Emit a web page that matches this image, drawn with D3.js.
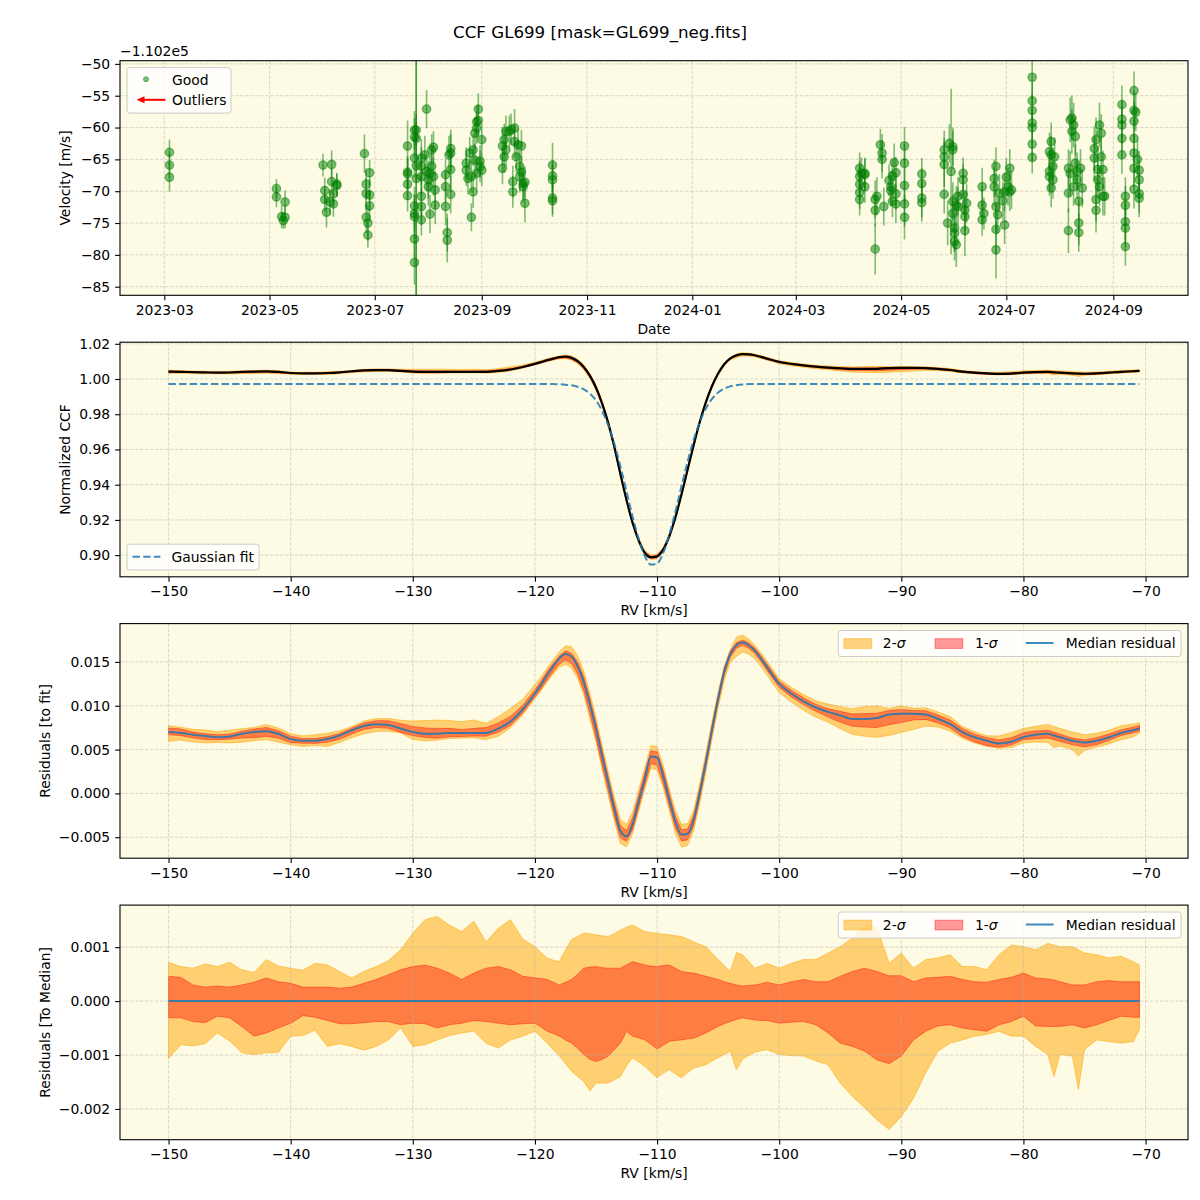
<!DOCTYPE html>
<html>
<head>
<meta charset="utf-8">
<script src="https://cdn.jsdelivr.net/npm/d3@7"></script>
<style>
  body { margin: 0; background: #ffffff; }
  svg text { font-family: "DejaVu Sans", sans-serif; fill: #000; }
</style>
</head>
<body>
<div class="chart"></div>
<script>
// ---------------- data ----------------

// velocities are shown relative to this offset (axis offset text)
var velOffsetLabel = "\u22121.102e5";

// one entry per night, velocities [m/s] and errors [m/s] for the exposures of that night
var nightDates = [
  "2023-03-04", "2023-05-05", "2023-05-08", "2023-05-09", "2023-05-10",
  "2023-06-01", "2023-06-02", "2023-06-03", "2023-06-05", "2023-06-06", "2023-06-07", "2023-06-09",
  "2023-06-25", "2023-06-26", "2023-06-27", "2023-06-28",
  "2023-07-20", "2023-07-24", "2023-07-25", "2023-07-28", "2023-07-30", "2023-07-31",
  "2023-08-01", "2023-08-02", "2023-08-03", "2023-08-04", "2023-08-05",
  "2023-08-11", "2023-08-12", "2023-08-13", "2023-08-14",
  "2023-08-23", "2023-08-24", "2023-08-25", "2023-08-26", "2023-08-27", "2023-08-28",
  "2023-08-29", "2023-08-30", "2023-08-31", "2023-09-01",
  "2023-09-13", "2023-09-14", "2023-09-15", "2023-09-17", "2023-09-18", "2023-09-19",
  "2023-09-20", "2023-09-21", "2023-09-22", "2023-09-23", "2023-09-24", "2023-09-25", "2023-09-26",
  "2023-10-12",
  "2024-04-07", "2024-04-08", "2024-04-10", "2024-04-16", "2024-04-17", "2024-04-19",
  "2024-04-20", "2024-04-21", "2024-04-24", "2024-04-25", "2024-04-26", "2024-04-27", "2024-04-28",
  "2024-05-03", "2024-05-13", "2024-05-26", "2024-05-28", "2024-05-29", "2024-05-30", "2024-05-31",
  "2024-06-01", "2024-06-02", "2024-06-03", "2024-06-06", "2024-06-07", "2024-06-08",
  "2024-06-17", "2024-06-18", "2024-06-24", "2024-06-25", "2024-06-26", "2024-06-27",
  "2024-06-29", "2024-06-30", "2024-07-01", "2024-07-02", "2024-07-03", "2024-07-04",
  "2024-07-16", "2024-07-26", "2024-07-27", "2024-07-28", "2024-07-29",
  "2024-08-06", "2024-08-07", "2024-08-08", "2024-08-09", "2024-08-10", "2024-08-11",
  "2024-08-12", "2024-08-13", "2024-08-14",
  "2024-08-21", "2024-08-22", "2024-08-23", "2024-08-24", "2024-08-25", "2024-08-26", "2024-08-27",
  "2024-09-06", "2024-09-08", "2024-09-13", "2024-09-14", "2024-09-15", "2024-09-16"
];
var nightVel = [
  [-63.9, -65.9, -67.8], [-69.6, -70.9], [-74.0], [-74.6], [-71.7, -74.1],
  [-65.9], [-69.9, -71.3], [-73.3], [-71.7], [-65.8, -68.5], [-70.4, -72.0], [-69.1, -68.9],
  [-64.1], [-70.4, -68.9, -74.1], [-75.0, -76.9], [-67.1, -72.3, -70.6],
  [-62.9, -67.0, -67.3, -68.9, -70.7], [-72.3, -73.5, -77.5, -81.2, -60.4, -61.5, -64.8, -74.0],
  [-68.0, -66.0, -60.4, -61.7], [-64.8, -66.1, -67.7, -70.8, -72.4, -74.5], [-64.3], [-66.9, -57.1],
  [-68.2, -69.3], [-67.2, -73.6], [-63.5, -66.1], [-63.1, -67.7], [-69.8, -72.2],
  [-67.4, -69.3, -72.4], [-76.5, -77.7], [-64.3], [-63.3, -66.6, -70.5, -64.0],
  [-65.6, -66.7], [-68.0], [-64.0], [-74.1, -67.7], [-63.5, -70.1], [-65.1, -60.9],
  [-60.1, -59.1, -67.2], [-57.1, -58.9], [-65.3, -66.1], [-61.9, -66.7],
  [-62.9, -66.4], [-61.9, -64.6], [-63.5, -60.6], [-60.6], [-60.3], [-68.5, -70.1],
  [-62.2, -60.1], [-64.6], [-62.7], [-66.1, -67.7], [-62.9, -67.0], [-68.8, -69.3], [-71.9, -68.6],
  [-65.9, -67.6, -68.2, -71.1, -71.5],
  [-66.4, -67.7, -68.9, -70.2, -71.3], [-67.2], [-67.4, -69.3, -67.2], [-79.1, -71.3, -73.0], [-70.8], [-62.7],
  [-64.0, -65.0], [-72.4], [-68.3], [-69.9, -69.3], [-71.6, -67.6], [-65.5], [-67.1, -72.0, -70.4],
  [-62.9, -65.6, -69.1, -72.0, -74.1], [-67.3, -68.8, -71.1, -71.8], [-63.5, -64.6, -65.8, -70.5], [-75.0], [-62.5], [-66.9], [-63.0, -71.6, -63.5, -73.5],
  [-75.8, -76.6, -77.9], [-78.4, -72.2], [-72.4, -70.8], [-67.2, -68.2, -70.5], [-73.0, -74.0, -76.2], [-71.9],
  [-69.3, -72.2, -74.5], [-73.5], [-68.0, -69.3], [-72.4, -66.1, -76.0, -79.2], [-73.7], [-70.3],
  [-71.5], [-75.3, -70.1], [-67.8], [-69.3], [-70.1, -66.4], [-69.8],
  [-52.1, -55.8, -57.3, -59.3, -60.0, -62.6, -64.7], [-63.8, -66.9, -67.7], [-62.2, -64.3, -69.5], [-68.2, -66.1], [-64.6],
  [-66.4, -70.3, -76.2], [-67.2, -58.8], [-60.6, -58.5], [-69.3, -59.6], [-61.4, -65.6], [-66.9, -68.2],
  [-71.6, -75.0, -76.5], [-66.4], [-69.5],
  [-63.3, -64.8], [-71.3, -73.0, -61.9], [-66.6, -68.2], [-69.3, -59.6], [-60.9, -64.6], [-66.6, -70.8], [-70.8],
  [-56.4, -58.7, -59.6, -61.7, -64.3], [-70.8, -72.2, -74.8, -75.8, -78.7],
  [-54.2, -57.3, -59.0, -61.7, -64.0, -66.4, -69.7], [-57.6], [-65.0], [-66.7, -68.2, -70.4, -71.1]
];
var nightErr = [
  [2.0, 2.0, 2.3], [1.5, 1.6], [1.8], [1.3], [1.8, 1.7],
  [1.8], [2.0, 2.0], [2.4], [2.0], [2.2, 2.0], [2.0, 2.0], [1.8, 1.8],
  [3.0], [2.5, 2.5, 2.5], [2.8, 2.0], [2.0, 2.5, 2.5],
  [4.0, 2.5, 2.5, 2.5, 2.5], [3.0, 3.0, 3.0, 3.5, 3.0, 3.0, 3.0, 3.5],
  [30, 30, 2.5, 2.5], [3.0, 3.0, 3.0, 3.0, 3.0, 2.5], [3.0], [3.0, 3.0],
  [3.0, 3.0], [3.0, 3.0], [2.5, 3.0], [2.5, 3.0], [3.0, 3.0],
  [2.5, 2.5, 3.0], [3.0, 3.5], [3.0], [3.0, 3.5, 3.0, 3.0],
  [2.5, 2.5], [2.5], [2.5], [2.2, 2.5], [2.5, 2.5], [2.5, 2.5],
  [2.5, 2.5, 2.5], [2.5, 2.5], [2.5, 2.5], [2.5, 2.5],
  [3.0, 2.5], [2.5, 2.5], [2.5, 2.5], [2.5], [2.5], [2.5, 2.5],
  [2.5, 3.0], [2.5], [2.5], [2.5, 2.5], [2.5, 2.5], [2.5, 2.5], [3.0, 2.5],
  [3.5, 2.5, 2.5, 2.5, 2.5],
  [2.5, 2.5, 2.5, 2.5, 2.5], [2.5], [2.5, 2.5, 2.5], [4.0, 3.0, 2.5], [3.0], [2.5],
  [3.0, 3.0], [3.0], [2.5], [2.5, 2.5], [2.5, 2.5], [3.0], [2.5, 3.0, 2.5],
  [3.0, 3.0, 3.0, 3.5, 3.5], [2.5, 2.5, 3.0, 3.0], [3.0, 3.0, 3.5, 3.0], [3.5], [3.0], [13], [3.0, 3.0, 3.0, 3.0],
  [3.5, 3.0, 3.0], [3.5, 3.0], [3.0, 3.0], [2.5, 2.5, 3.0], [3.0, 3.0, 4.0], [3.0],
  [3.0, 3.0, 2.5], [2.5], [3.0, 3.0], [3.5, 3.0, 4.0, 4.5], [3.0], [3.0],
  [3.0], [3.0, 3.0], [3.0], [3.0], [3.0, 3.0], [3.0],
  [3.5, 3.0, 2.5, 2.5, 2.5, 2.5, 2.5], [3.0, 3.0, 3.0], [3.0, 3.0, 3.0], [3.0, 3.0], [3.0],
  [3.0, 3.0, 3.5], [3.5, 3.5], [3.5, 3.5], [3.0, 3.5], [3.0, 3.0], [3.0, 3.0],
  [3.0, 3.5, 3.0], [3.0], [3.0],
  [3.5, 3.5], [3.5, 3.5, 3.5], [3.5, 3.0], [3.0, 3.5], [3.0, 3.0], [3.0, 3.0], [3.0],
  [3.0, 3.0, 3.0, 3.0, 3.0], [3.0, 3.0, 3.0, 3.0, 3.0],
  [3.0, 3.0, 3.0, 3.0, 3.0, 3.0, 3.0], [3.0], [3.0], [3.0, 3.0, 3.0, 3.0]
];

var dateTicks = ["2023-03", "2023-05", "2023-07", "2023-09", "2023-11",
                 "2024-01", "2024-03", "2024-05", "2024-07", "2024-09"];
var velTicks = [-85, -80, -75, -70, -65, -60, -55, -50];

// CCF grid [km/s]
var rv = [
  -150, -149, -148, -147, -146, -145, -144, -143, -142, -141,
  -140, -139, -138, -137, -136, -135, -134, -133, -132, -131,
  -130, -129, -128, -127, -126, -125, -124, -123, -122, -121,
  -120, -119.5, -119, -118.5, -118, -117.5, -117, -116.5, -116, -115.5,
  -115, -114.5, -114, -113.5, -113, -112.5, -112, -111.5, -111, -110.5,
  -110, -109.5, -109, -108.5, -108, -107.5, -107, -106.5, -106, -105.5,
  -105, -104.5, -104, -103.5, -103, -102.5, -102, -101.5, -101,
  -100, -99, -98, -97, -96, -95, -94, -93, -92, -91,
  -90, -89, -88, -87, -86, -85, -84, -83, -82, -81,
  -80, -79, -78, -77.5, -77, -76, -75.5, -75, -74, -73,
  -72, -71, -70.5
];
var gaussFit = [
  0.9972, 0.9972, 0.9972, 0.9972, 0.9972, 0.9972, 0.9972, 0.9972, 0.9972, 0.9972,
  0.9972, 0.9972, 0.9972, 0.9972, 0.9972, 0.9972, 0.9972, 0.9972, 0.9972, 0.9972,
  0.9972, 0.9972, 0.9972, 0.9972, 0.9972, 0.9972, 0.9972, 0.9972, 0.9972, 0.9972,
  0.9972, 0.9972, 0.9972, 0.9971, 0.9970, 0.9968, 0.9964, 0.9956, 0.9941, 0.9917,
  0.9878, 0.9819, 0.9738, 0.9632, 0.9504, 0.9362, 0.9218, 0.9091, 0.8995, 0.8946,
  0.8952, 0.9011, 0.9114, 0.9246, 0.9391, 0.9531, 0.9655, 0.9756, 0.9833, 0.9887,
  0.9923, 0.9945, 0.9958, 0.9965, 0.9969, 0.9971, 0.9972, 0.9972, 0.9972,
  0.9972, 0.9972, 0.9972, 0.9972, 0.9972, 0.9972, 0.9972, 0.9972, 0.9972, 0.9972,
  0.9972, 0.9972, 0.9972, 0.9972, 0.9972, 0.9972, 0.9972, 0.9972, 0.9972, 0.9972,
  0.9972, 0.9972, 0.9972, 0.9972, 0.9972, 0.9972, 0.9972, 0.9972, 0.9972, 0.9972,
  0.9972, 0.9972, 0.9972
];
var ccfMedian = [
  1.0042, 1.0041, 1.0039, 1.00375, 1.0036, 1.0037, 1.0040, 1.0042, 1.0043, 1.0040,
  1.0034, 1.0032, 1.0032, 1.0034, 1.0038, 1.0044, 1.0049, 1.0051, 1.0050, 1.0046,
  1.0042, 1.0040, 1.0040, 1.0041, 1.0041, 1.0041, 1.0041, 1.0046, 1.0054, 1.0068,
  1.0086, 1.0096, 1.0107, 1.0116, 1.0124, 1.0127, 1.0120, 1.0101, 1.0068, 1.0019,
  0.9952, 0.9862, 0.9751, 0.9615, 0.9461, 0.9313, 0.9183, 0.9082, 0.9012, 0.8988,
  0.8993, 0.9031, 0.9107, 0.9214, 0.9344, 0.9485, 0.9625, 0.9757, 0.9869, 0.9960,
  1.0031, 1.0084, 1.0117, 1.0134, 1.0141, 1.0140, 1.0135, 1.0126, 1.0116,
  1.0097, 1.0086, 1.0077, 1.0070, 1.0065, 1.0061, 1.0057, 1.0057, 1.0058, 1.0062,
  1.0063, 1.0063, 1.0062, 1.0057, 1.0051, 1.0042, 1.0036, 1.0032, 1.0029, 1.0031,
  1.0036, 1.0039, 1.0040, 1.0038, 1.0036, 1.0032, 1.0031, 1.0030, 1.0032, 1.0036,
  1.0041, 1.0044, 1.0046
];
var resMedian = [
  0.0070, 0.0069, 0.0067, 0.00655, 0.0064, 0.0065, 0.0068, 0.0070, 0.0071, 0.0068,
  0.0062, 0.0060, 0.0060, 0.0062, 0.0066, 0.0072, 0.0077, 0.0079, 0.0078, 0.0074,
  0.0070, 0.0068, 0.0068, 0.0069, 0.0069, 0.0069, 0.0069, 0.0074, 0.0082, 0.0096,
  0.0114, 0.0124, 0.0135, 0.0145, 0.0154, 0.0159, 0.0156, 0.0145, 0.0127, 0.0102,
  0.0074, 0.0043, 0.0013, -0.0017, -0.0043, -0.0049, -0.0035, -0.0009, 0.0017, 0.0042,
  0.0041, 0.0020, -0.0007, -0.0032, -0.0047, -0.0046, -0.0030, 0.0001, 0.0036, 0.0073,
  0.0108, 0.0139, 0.0159, 0.0169, 0.0172, 0.0169, 0.0163, 0.0154, 0.0144,
  0.0125, 0.0114, 0.0105, 0.0098, 0.0093, 0.0089, 0.0085, 0.0085, 0.0086, 0.0090,
  0.0091, 0.0091, 0.0090, 0.0085, 0.0079, 0.0070, 0.0064, 0.0060, 0.0057, 0.0059,
  0.0064, 0.0067, 0.0068, 0.0066, 0.0064, 0.0060, 0.0059, 0.0058, 0.0060, 0.0064,
  0.0069, 0.0072, 0.0074
];

// spread of the individual CCFs around the median, in units of 1e-4
var bandUnit = 1e-4;
var sig2Hi = [
  7.2, 6.4, 6.1, 6.9, 6.4, 7.2, 5.8, 5.3, 7.7, 6.5,
  6.1, 5.7, 7.0, 6.7, 5.5, 4.3, 5.5, 6.4, 7.5, 9.5,
  12.6, 15.1, 15.7, 14.1, 12.9, 14.8, 11.0, 13.5, 15.1, 11.5,
  10.1, 9.0, 8.0, 7.6, 7.3, 9.5, 11.4, 12.0, 12.6, 12.5,
  12.3, 12.1, 12.0, 12.5, 13.2, 13.7, 14.1, 13.5, 12.9, 12.7,
  12.6, 12.4, 12.3, 12.1, 12.0, 11.5, 11.0, 10.5, 10.1, 8.9,
  7.7, 6.6, 5.5, 9.0, 8.6, 7.4, 6.1, 6.5, 7.0,
  6.1, 7.0, 7.7, 7.7, 8.9, 10.1, 11.7, 14.1, 13.8, 7.0,
  8.9, 6.1, 7.7, 8.0, 8.6, 6.4, 6.4, 5.8, 8.6, 10.4,
  10.1, 9.5, 10.7, 10.4, 10.1, 10.1, 9.5, 8.9, 8.6, 8.0,
  8.3, 7.3, 6.7
];
var sig1Hi = [
  4.6, 4.4, 3.0, 2.6, 2.8, 2.6, 3.0, 3.5, 4.3, 3.6,
  3.3, 2.6, 2.6, 2.6, 2.4, 2.6, 3.3, 4.0, 4.9, 5.8,
  6.4, 6.7, 6.1, 5.2, 4.0, 5.2, 6.1, 6.4, 5.8, 4.6,
  4.3, 4.2, 4.0, 3.5, 3.0, 3.5, 4.0, 5.0, 6.1, 6.3,
  6.4, 6.2, 6.1, 6.1, 6.1, 6.7, 7.3, 7.0, 6.7, 6.5,
  6.4, 6.6, 6.7, 6.1, 5.5, 5.3, 5.2, 4.9, 4.6, 4.3,
  4.0, 3.6, 3.3, 3.0, 2.8, 2.9, 3.0, 3.2, 3.5,
  3.0, 3.6, 4.0, 3.6, 3.6, 4.6, 5.5, 6.1, 5.5, 4.7,
  4.7, 3.6, 4.3, 4.4, 4.6, 4.0, 3.6, 3.5, 4.0, 4.4,
  5.2, 4.3, 4.1, 3.9, 3.6, 3.0, 3.0, 3.0, 3.6, 3.8,
  3.6, 3.6, 3.6
];
var sig1Lo = [
  -3.1, -3.1, -3.8, -4.0, -2.8, -3.1, -4.7, -6.5, -5.9, -5.0,
  -4.1, -2.7, -3.0, -3.6, -4.2, -4.2, -4.0, -3.8, -3.8, -4.4,
  -4.1, -4.2, -5.0, -4.4, -4.1, -3.6, -3.8, -4.1, -4.4, -4.2,
  -4.1, -4.8, -5.6, -6.0, -6.5, -7.2, -7.8, -8.8, -9.9, -10.8,
  -11.2, -10.8, -10.2, -9.0, -7.8, -5.6, -6.5, -6.8, -7.2, -8.0,
  -8.9, -8.2, -7.5, -7.3, -7.2, -7.0, -6.9, -6.4, -5.9, -5.3,
  -4.7, -4.2, -3.8, -3.4, -3.1, -3.3, -3.5, -3.6, -3.6,
  -4.1, -3.9, -3.8, -4.4, -5.9, -7.8, -8.4, -9.3, -10.9, -11.6,
  -10.2, -7.2, -5.6, -4.6, -4.4, -5.0, -5.3, -5.6, -4.4, -3.8,
  -2.8, -4.6, -4.7, -4.7, -4.7, -4.4, -4.7, -5.0, -4.4, -3.6,
  -2.8, -3.0, -3.0
];
var sig2Lo = [
  -10.7, -8.1, -8.3, -7.9, -5.9, -7.4, -9.6, -9.9, -9.6, -9.5,
  -6.5, -6.4, -5.4, -8.4, -7.9, -8.4, -9.1, -8.4, -7.2, -5.0,
  -8.4, -8.1, -7.2, -6.4, -5.9, -5.6, -7.8, -8.7, -7.2, -6.5,
  -5.6, -6.7, -7.8, -9.0, -10.2, -11.6, -13.0, -14.0, -14.9, -16.7,
  -15.2, -15.2, -15.2, -14.6, -14.0, -12.0, -10.5, -11.3, -12.1, -13.2,
  -14.2, -13.4, -12.7, -13.5, -14.2, -13.3, -12.4, -12.1, -11.8, -11.1,
  -10.5, -9.9, -9.3, -12.7, -10.8, -10.1, -9.5, -9.2, -9.0,
  -9.9, -10.1, -10.2, -11.1, -11.8, -15.2, -17.7, -19.8, -22.0, -23.8,
  -21.4, -18.0, -13.3, -9.3, -7.8, -7.2, -6.5, -6.2, -5.6, -6.5,
  -6.5, -8.4, -9.9, -14.0, -9.9, -10.2, -16.4, -9.0, -7.2, -7.5,
  -7.8, -7.5, -5.3
];

var rvTicks = [-150, -140, -130, -120, -110, -100, -90, -80, -70];
var ccfTicks = [0.90, 0.92, 0.94, 0.96, 0.98, 1.00, 1.02];
var resTicks = [-0.005, 0.000, 0.005, 0.010, 0.015];
var medTicks = [-0.002, -0.001, 0.000, 0.001];

// ---------------- layout ----------------
var svgWidth = 1200, svgHeight = 1200;
var plotLeft = 120, plotRight = 1188;
var panelTop = [60.7, 342.2, 623.6, 905.1];
var panelHeight = 234.6;
var fontSize = 13.9;
var bgColor = "#fdfbe3";

var svg = d3.select(".chart")
  .append("svg")
  .attr("width", svgWidth)
  .attr("height", svgHeight);

svg.append("rect").attr("width", svgWidth).attr("height", svgHeight).attr("fill", "#fff");

svg.append("text")
  .attr("x", 600).attr("y", 38)
  .attr("text-anchor", "middle")
  .attr("font-size", 16.67)
  .text("CCF GL699 [mask=GL699_neg.fits]");

// builds background, clip, grid and frame of one panel; returns layers
function makePanel(i, x, y, xTicks, yTicks, xFmt, yFmt) {
  var top = panelTop[i], bottom = top + panelHeight;
  var g = svg.append("g");

  g.append("rect")
    .attr("x", plotLeft).attr("y", top)
    .attr("width", plotRight - plotLeft).attr("height", panelHeight)
    .attr("fill", bgColor);

  svg.append("clipPath").attr("id", "clip" + i)
    .append("rect")
    .attr("x", plotLeft).attr("y", top)
    .attr("width", plotRight - plotLeft).attr("height", panelHeight);

  var fills = g.append("g").attr("clip-path", "url(#clip" + i + ")");
  var grid = g.append("g");
  var marks = g.append("g").attr("clip-path", "url(#clip" + i + ")");
  var frame = g.append("g");

  grid.selectAll(".gx").data(xTicks).enter().append("line")
    .attr("x1", function(d) { return x(d); })
    .attr("x2", function(d) { return x(d); })
    .attr("y1", top).attr("y2", bottom);
  grid.selectAll(".gy").data(yTicks).enter().append("line")
    .attr("x1", plotLeft).attr("x2", plotRight)
    .attr("y1", function(d) { return y(d); })
    .attr("y2", function(d) { return y(d); });
  grid.selectAll("line")
    .attr("stroke", "#b0b0b0")
    .attr("stroke-opacity", 0.6)
    .attr("stroke-width", 0.8)
    .attr("stroke-dasharray", "3.5,1.5");

  var ax = frame.append("g")
    .attr("transform", "translate(0," + bottom + ")")
    .call(d3.axisBottom(x).tickValues(xTicks).tickFormat(xFmt).tickSize(4.9).tickPadding(4.9));
  var ay = frame.append("g")
    .attr("transform", "translate(" + plotLeft + ",0)")
    .call(d3.axisLeft(y).tickValues(yTicks).tickFormat(yFmt).tickSize(4.9).tickPadding(4.9));
  [ax, ay].forEach(function(a) {
    a.attr("font-size", null).attr("font-family", null);
    a.select(".domain").remove();
    a.selectAll(".tick line").attr("stroke", "#000").attr("stroke-width", 1.1);
    a.selectAll(".tick text").attr("font-size", fontSize).attr("fill", "#000");
  });

  frame.append("rect")
    .attr("x", plotLeft).attr("y", top)
    .attr("width", plotRight - plotLeft).attr("height", panelHeight)
    .attr("fill", "none").attr("stroke", "#000").attr("stroke-width", 1.1);

  return { fills: fills, marks: marks, frame: frame, top: top, bottom: bottom };
}

function xLabel(p, txt) {
  p.frame.append("text")
    .attr("x", (plotLeft + plotRight) / 2).attr("y", p.bottom + 38.3)
    .attr("text-anchor", "middle").attr("font-size", fontSize)
    .text(txt);
}
function yLabel(p, txt, xpos) {
  var cy = p.top + panelHeight / 2;
  p.frame.append("text")
    .attr("transform", "translate(" + xpos + "," + cy + ") rotate(-90)")
    .attr("text-anchor", "middle").attr("font-size", fontSize)
    .text(txt);
}
function legendBox(p, x, y, w, h) {
  p.frame.append("rect")
    .attr("x", x).attr("y", y).attr("width", w).attr("height", h)
    .attr("rx", 2.8)
    .attr("fill", "#fff").attr("fill-opacity", 0.8)
    .attr("stroke", "#cccccc").attr("stroke-width", 1);
}
function legendText(p, x, y, txt) {
  return p.frame.append("text").attr("x", x).attr("y", y).attr("font-size", fontSize).text(txt);
}

// ---------------- panel 1: velocities ----------------
var parseDay = d3.utcParse("%Y-%m-%d");
var parseMonth = d3.utcParse("%Y-%m");
var parseTime = d3.utcParse("%Y-%m-%dT%H:%M");

var obs = [];
nightDates.forEach(function(d, i) {
  nightVel[i].forEach(function(v, j) {
    obs.push({ date: parseDay(d), v: v, e: nightErr[i][j] });
  });
});

var x1 = d3.scaleUtc()
  .domain([parseTime("2023-02-03T08:00"), parseTime("2024-10-14T07:00")])
  .range([plotLeft, plotRight]);
var y1 = d3.scaleLinear()
  .domain([-86.35, -49.5])
  .range([panelTop[0] + panelHeight, panelTop[0]]);

var p1 = makePanel(0, x1, y1, dateTicks.map(parseMonth), velTicks,
  d3.utcFormat("%Y-%m"), d3.format("d"));

p1.marks.selectAll(".pt").data(obs).enter().append("circle")
  .attr("cx", function(d) { return x1(d.date); })
  .attr("cy", function(d) { return y1(d.v); })
  .attr("r", 4.2)
  .attr("fill", "green").attr("fill-opacity", 0.5)
  .attr("stroke", "green").attr("stroke-opacity", 0.5).attr("stroke-width", 1.3);

p1.marks.selectAll(".err").data(obs).enter().append("line")
  .attr("x1", function(d) { return x1(d.date); })
  .attr("x2", function(d) { return x1(d.date); })
  .attr("y1", function(d) { return y1(d.v - d.e); })
  .attr("y2", function(d) { return y1(d.v + d.e); })
  .attr("stroke", "green").attr("stroke-opacity", 0.5).attr("stroke-width", 1.6);

xLabel(p1, "Date");
yLabel(p1, "Velocity [m/s]", 70);
p1.frame.append("text")
  .attr("x", plotLeft).attr("y", 55.5)
  .attr("font-size", fontSize)
  .text(velOffsetLabel);

legendBox(p1, 127, 67.6, 104, 45.5);
p1.frame.append("circle").attr("cx", 146).attr("cy", 79.2).attr("r", 2.5)
  .attr("fill", "green").attr("fill-opacity", 0.5)
  .attr("stroke", "green").attr("stroke-opacity", 0.5).attr("stroke-width", 1);
legendText(p1, 172, 84.7, "Good");
p1.frame.append("line")
  .attr("x1", 165.5).attr("x2", 142).attr("y1", 99.8).attr("y2", 99.8)
  .attr("stroke", "red").attr("stroke-width", 2);
p1.frame.append("path")
  .attr("d", "M136.5,99.8 L144.5,96.3 L144.5,103.3 Z")
  .attr("fill", "red");
legendText(p1, 172, 104.7, "Outliers");

// ---------------- CCF rows ----------------
var rows = rv.map(function(r, i) {
  return {
    rv: r, gauss: gaussFit[i], ccf: ccfMedian[i], res: resMedian[i],
    s2hi: sig2Hi[i] * bandUnit, s1hi: sig1Hi[i] * bandUnit,
    s1lo: sig1Lo[i] * bandUnit, s2lo: sig2Lo[i] * bandUnit
  };
});

var xRv = d3.scaleLinear().domain([-153.975, -66.525]).range([plotLeft, plotRight]);

function drawBands(layer, y, base) {
  var a2 = d3.area()
    .x(function(d) { return xRv(d.rv); })
    .y0(function(d) { return y(base(d) + d.s2lo); })
    .y1(function(d) { return y(base(d) + d.s2hi); });
  var a1 = d3.area()
    .x(function(d) { return xRv(d.rv); })
    .y0(function(d) { return y(base(d) + d.s1lo); })
    .y1(function(d) { return y(base(d) + d.s1hi); });
  layer.append("path").datum(rows).attr("d", a2)
    .attr("fill", "orange").attr("fill-opacity", 0.5)
    .attr("stroke", "orange").attr("stroke-opacity", 0.5).attr("stroke-width", 1);
  layer.append("path").datum(rows).attr("d", a1)
    .attr("fill", "red").attr("fill-opacity", 0.4)
    .attr("stroke", "red").attr("stroke-opacity", 0.4).attr("stroke-width", 1);
}

function sigmaLegend(p) {
  var lx = 838.3, ly = p.top + 6.9;
  legendBox(p, lx, ly, 342.8, 26);
  p.frame.append("rect").attr("x", lx + 5.6).attr("y", ly + 8.2).attr("width", 27.8).attr("height", 9.7)
    .attr("fill", "orange").attr("fill-opacity", 0.5)
    .attr("stroke", "orange").attr("stroke-opacity", 0.5);
  var t2 = legendText(p, lx + 44.5, ly + 17.5, "2-");
  t2.append("tspan").attr("font-style", "italic").text("\u03c3");
  p.frame.append("rect").attr("x", lx + 96.7).attr("y", ly + 8.2).attr("width", 27.8).attr("height", 9.7)
    .attr("fill", "red").attr("fill-opacity", 0.4)
    .attr("stroke", "red").attr("stroke-opacity", 0.4);
  var t1 = legendText(p, lx + 136.7, ly + 17.5, "1-");
  t1.append("tspan").attr("font-style", "italic").text("\u03c3");
  p.frame.append("line")
    .attr("x1", lx + 187.5).attr("x2", lx + 215.3)
    .attr("y1", ly + 12.5).attr("y2", ly + 12.5)
    .attr("stroke", "#1f77b4").attr("stroke-opacity", 0.85).attr("stroke-width", 2);
  legendText(p, lx + 227.4, ly + 17.5, "Median residual");
}

// ---------------- panel 2: normalized CCF ----------------
var y2 = d3.scaleLinear().domain([0.8877, 1.0209])
  .range([panelTop[1] + panelHeight, panelTop[1]]);
var p2 = makePanel(1, xRv, y2, rvTicks, ccfTicks, d3.format("d"), d3.format(".2f"));

drawBands(p2.fills, y2, function(d) { return d.ccf; });
p2.marks.append("path").datum(rows)
  .attr("d", d3.line().curve(d3.curveMonotoneX)
    .x(function(d) { return xRv(d.rv); })
    .y(function(d) { return y2(d.ccf); }))
  .attr("fill", "none").attr("stroke", "#000").attr("stroke-width", 2.2);
p2.marks.append("path").datum(rows)
  .attr("d", d3.line().curve(d3.curveMonotoneX)
    .x(function(d) { return xRv(d.rv); })
    .y(function(d) { return y2(d.gauss); }))
  .attr("fill", "none").attr("stroke", "#1f77b4").attr("stroke-opacity", 0.85)
  .attr("stroke-width", 2).attr("stroke-dasharray", "7.4,3.2");

xLabel(p2, "RV [km/s]");
yLabel(p2, "Normalized CCF", 70);
legendBox(p2, 127, 544.2, 132, 25.7);
p2.frame.append("line")
  .attr("x1", 132.6).attr("x2", 160.4).attr("y1", 556.8).attr("y2", 556.8)
  .attr("stroke", "#1f77b4").attr("stroke-opacity", 0.85)
  .attr("stroke-width", 2).attr("stroke-dasharray", "7.4,3.2");
legendText(p2, 171.5, 561.6, "Gaussian fit");

// ---------------- panel 3: residuals to fit ----------------
var y3 = d3.scaleLinear().domain([-0.00739, 0.01937])
  .range([panelTop[2] + panelHeight, panelTop[2]]);
var p3 = makePanel(2, xRv, y3, rvTicks, resTicks, d3.format("d"), d3.format(".3f"));

drawBands(p3.fills, y3, function(d) { return d.res; });
p3.marks.append("path").datum(rows)
  .attr("d", d3.line().curve(d3.curveMonotoneX)
    .x(function(d) { return xRv(d.rv); })
    .y(function(d) { return y3(d.res); }))
  .attr("fill", "none").attr("stroke", "#1f77b4").attr("stroke-opacity", 0.85).attr("stroke-width", 2);

xLabel(p3, "RV [km/s]");
yLabel(p3, "Residuals [to fit]", 50);
sigmaLegend(p3);

// ---------------- panel 4: residuals to median ----------------
var y4 = d3.scaleLinear().domain([-0.00257, 0.00178])
  .range([panelTop[3] + panelHeight, panelTop[3]]);
var p4 = makePanel(3, xRv, y4, rvTicks, medTicks, d3.format("d"), d3.format(".3f"));

drawBands(p4.fills, y4, function() { return 0; });
p4.marks.append("path").datum(rows)
  .attr("d", d3.line()
    .x(function(d) { return xRv(d.rv); })
    .y(function() { return y4(0); }))
  .attr("fill", "none").attr("stroke", "#1f77b4").attr("stroke-opacity", 0.85).attr("stroke-width", 2);

xLabel(p4, "RV [km/s]");
yLabel(p4, "Residuals [To Median]", 50);
sigmaLegend(p4);
</script>
</body>
</html>
